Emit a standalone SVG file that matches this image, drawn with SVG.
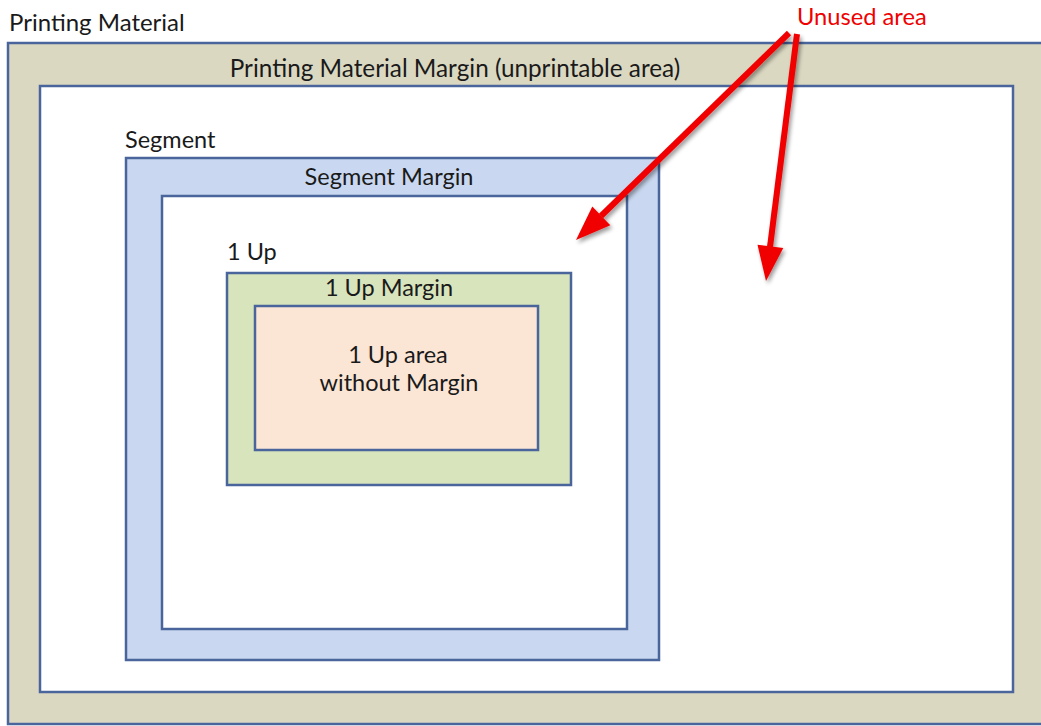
<svg xmlns="http://www.w3.org/2000/svg" width="1041" height="726" viewBox="0 0 1041 726">
<style>
.box{stroke:#4a659c;stroke-width:2.5}
.t{font-family:Lato,"Open Sans",sans-serif;font-size:23.5px;fill:#1a1a1a}
.r{stroke:#f00000;stroke-width:6;fill:none}
.h{fill:#f00000}
</style>
<defs>
<filter id="sh" x="-20%" y="-20%" width="140%" height="140%">
<feGaussianBlur in="SourceAlpha" stdDeviation="2"/>
<feOffset dx="2" dy="3"/>
<feComponentTransfer><feFuncA type="linear" slope="0.4"/></feComponentTransfer>
<feMerge><feMergeNode/><feMergeNode in="SourceGraphic"/></feMerge>
</filter>
</defs>
<rect width="1041" height="726" fill="#fff"/>
<g id="printing-material">
<rect class="box" x="8" y="43" width="1050" height="681" fill="#dbd8c2"/>
<text class="t" x="9" y="31" style="font-size:24px">Printing Material</text>
</g>
<g id="printing-material-margin">
<rect class="box" x="40" y="86" width="973" height="606" fill="#fff"/>
<text class="t" x="455" y="77" text-anchor="middle" style="font-size:24.3px">Printing Material Margin (unprintable area)</text>
</g>
<g id="segment">
<rect class="box" x="126" y="158" width="533" height="502" fill="#c9d8f0"/>
<text class="t" x="125" y="148">Segment</text>
</g>
<g id="segment-margin">
<rect class="box" x="162" y="196" width="465" height="433" fill="#fff"/>
<text class="t" x="389" y="185" text-anchor="middle">Segment Margin</text>
</g>
<g id="one-up">
<rect class="box" x="227" y="273" width="344" height="212" fill="#d8e4bc"/>
<text class="t" x="227" y="260">1 Up</text>
</g>
<g id="one-up-margin">
<rect class="box" x="255" y="306" width="283" height="144" fill="#fbe6d6"/>
<text class="t" x="389" y="296" text-anchor="middle">1 Up Margin</text>
</g>
<g id="one-up-area">
<text class="t" x="398" y="363" text-anchor="middle">1 Up area</text>
<text class="t" x="399" y="391" text-anchor="middle">without Margin</text>
</g>
<g id="unused-area">
<text x="797" y="25" style="font-family:Lato,'Open Sans',sans-serif;font-size:23.7px;fill:#f00000">Unused area</text>
</g>
<g id="connectors" filter="url(#sh)">
<line class="r" x1="789" y1="33" x2="601" y2="216"/>
<polygon class="h" points="576,240 610.3,225.2 592.3,206.4"/>
<line class="r" x1="797" y1="34" x2="770" y2="247"/>
<polygon class="h" points="766,281 783.3,247.9 757.5,244.7"/>
</g>
</svg>
